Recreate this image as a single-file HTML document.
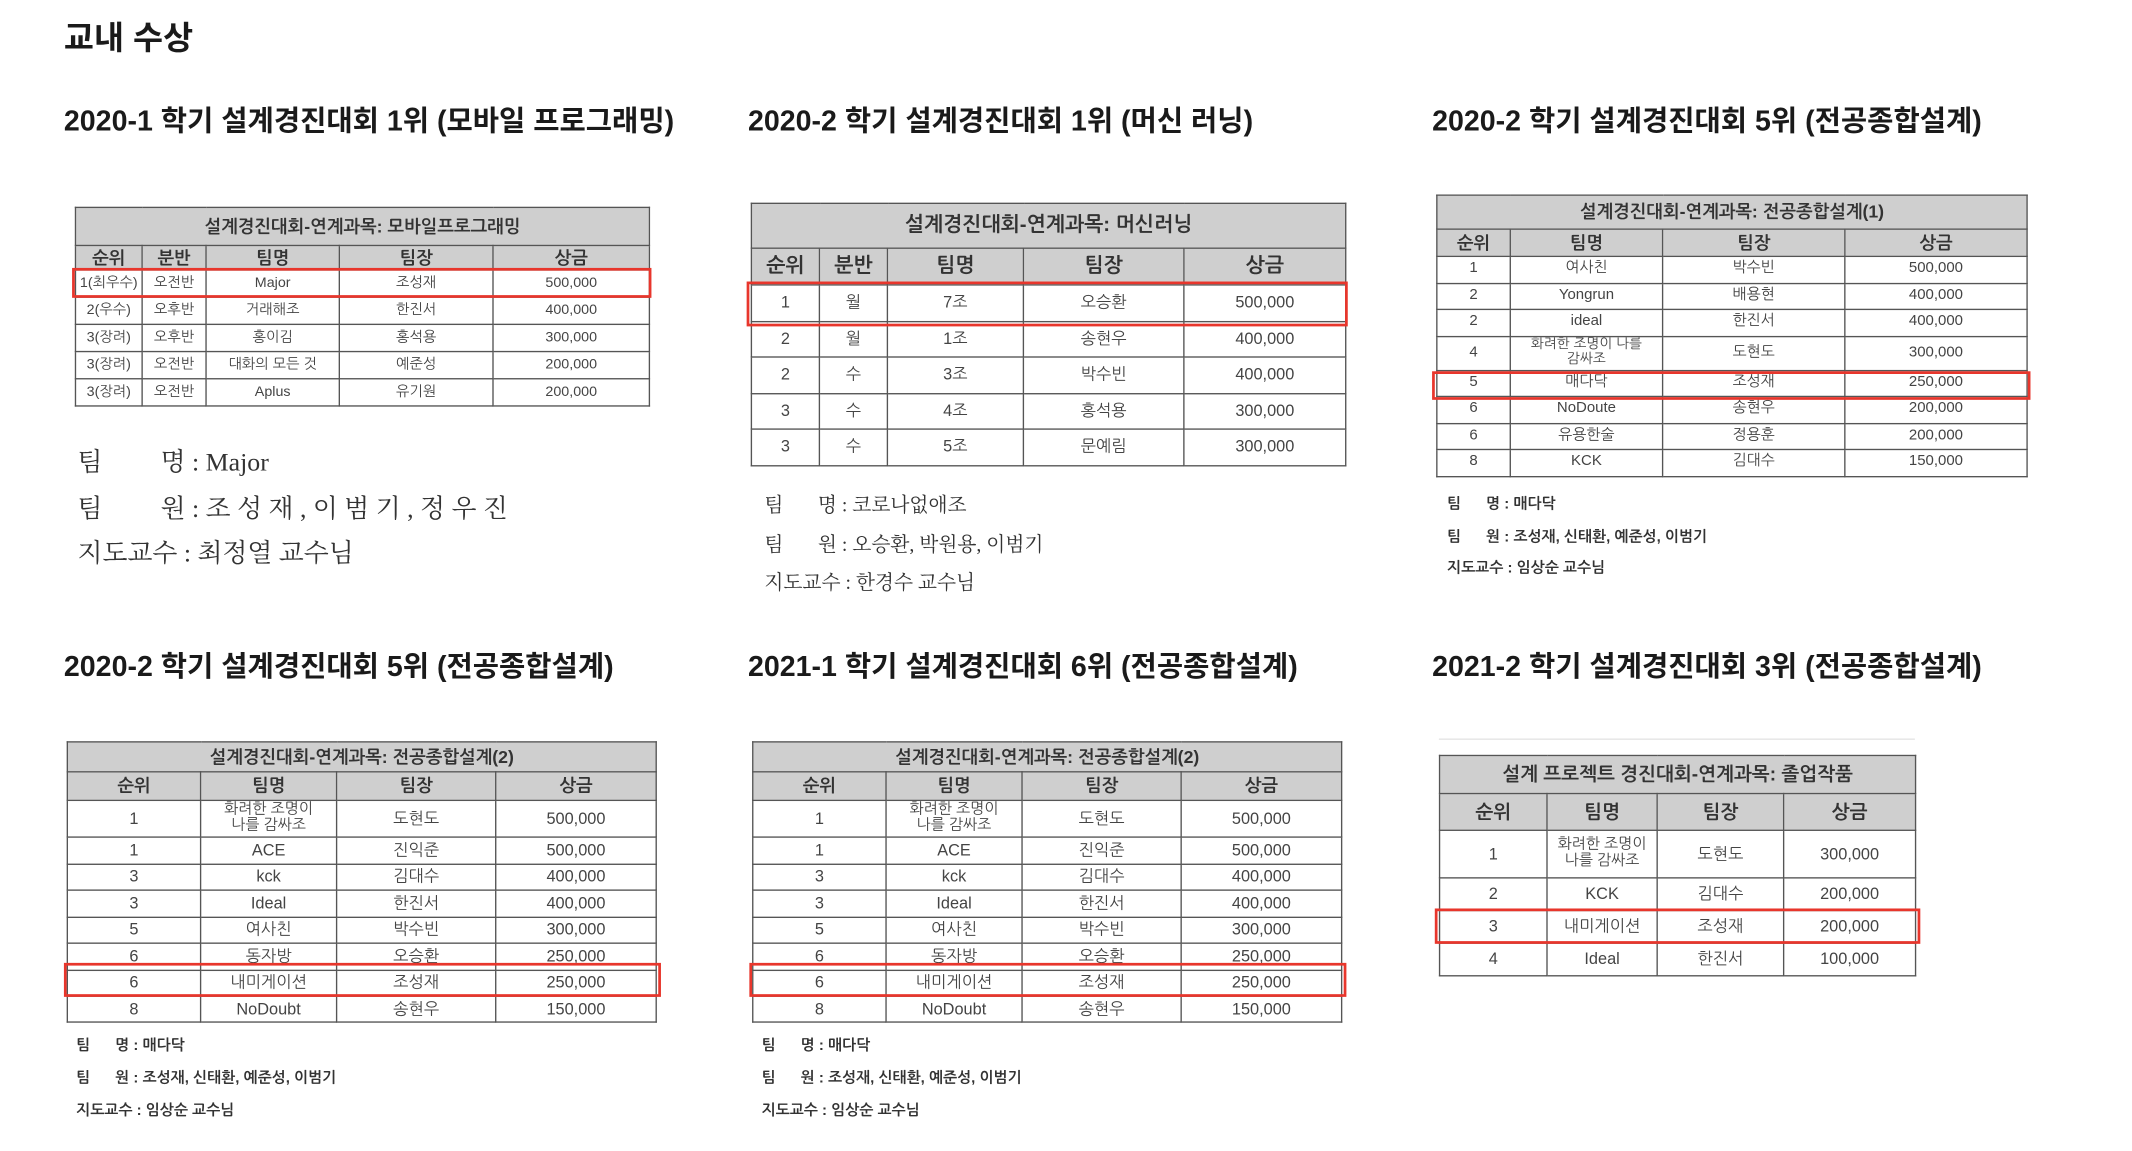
<!DOCTYPE html>
<html><head><meta charset="utf-8">
<style>
html,body{margin:0;padding:0;background:#fff;}
body{width:2132px;height:1150px;overflow:hidden;position:relative;}
#wrap{position:absolute;left:0;top:0;width:1568px;height:846px;transform:scale(1.36);transform-origin:0 0;font-family:"Liberation Sans","Noto Sans CJK KR",sans-serif;color:#222;}
.h{position:absolute;font-weight:bold;white-space:nowrap;color:#1a1a1a;}
.tbl{position:absolute;border-collapse:collapse;table-layout:fixed;font-family:"Liberation Sans","NanumGothic","Noto Sans CJK KR",sans-serif;color:#444;background:#fff;}
.tbl td{border:1px solid #555;text-align:center;padding:0;line-height:1.05;overflow:hidden;}
.tbl tr.t td,.tbl tr.hd td{background:#cfcfcf;color:#333;}
.red{position:absolute;border:2px solid #e8362c;box-sizing:border-box;}
.note{position:absolute;white-space:nowrap;color:#333;}
</style></head><body>
<div id="wrap">
<div class="h" style="left:47px;top:8px;font-size:24px">교내 수상</div>
<div class="h" style="left:47px;top:73px;font-size:21px">2020-1 학기 설계경진대회 1위 (모바일 프로그래밍)</div>
<div class="h" style="left:550px;top:73px;font-size:21px">2020-2 학기 설계경진대회 1위 (머신 러닝)</div>
<div class="h" style="left:1053px;top:73px;font-size:21px">2020-2 학기 설계경진대회 5위 (전공종합설계)</div>
<div class="h" style="left:47px;top:474px;font-size:21px">2020-2 학기 설계경진대회 5위 (전공종합설계)</div>
<div class="h" style="left:550px;top:474px;font-size:21px">2021-1 학기 설계경진대회 6위 (전공종합설계)</div>
<div class="h" style="left:1053px;top:474px;font-size:21px">2021-2 학기 설계경진대회 3위 (전공종합설계)</div>
<div style="position:absolute;left:1058px;top:543px;width:350px;height:1px;background:#e4e4e4"></div>
</div>
<script>
const wrap=document.getElementById('wrap');
const T2=['설계경진대회-연계과목: 전공종합설계(2)',['순위','팀명','팀장','상금'],[['1','화려한 조명이<br>나를 감싸조','도현도','500,000'],['1','ACE','진익준','500,000'],['3','kck','김대수','400,000'],['3','Ideal','한진서','400,000'],['5','여사친','박수빈','300,000'],['6','동자방','오승환','250,000'],['6','내미게이션','조성재','250,000'],['8','NoDoubt','송현우','150,000']]];
const tables=[
 {x:55,y:152,cols:[49,47,98,113,115],th:28,hh:18,rh:[20,20,20,20,20],fs:10.5,hfs:13,tfs:13,title:'설계경진대회-연계과목: 모바일프로그래밍',head:['순위','분반','팀명','팀장','상금'],rows:[['1(최우수)','오전반','Major','조성재','500,000'],['2(우수)','오후반','거래해조','한진서','400,000'],['3(장려)','오후반','홍이김','홍석용','300,000'],['3(장려)','오전반','대화의 모든 것','예준성','200,000'],['3(장려)','오전반','Aplus','유기원','200,000']],red:[53,197,426,22]},
 {x:552,y:149,cols:[50,50,100,118,119],th:33,hh:27,rh:[26.5,26.5,26.5,26.5,26.5],fs:12,hfs:15,tfs:15,title:'설계경진대회-연계과목: 머신러닝',head:['순위','분반','팀명','팀장','상금'],rows:[['1','월','7조','오승환','500,000'],['2','월','1조','송현우','400,000'],['2','수','3조','박수빈','400,000'],['3','수','4조','홍석용','300,000'],['3','수','5조','문예림','300,000']],red:[549,207,442,33]},
 {x:1056,y:143,cols:[54,112,134,134],th:25,hh:20,rh:[19.5,19.5,19.5,25,19.5,19.5,19.5,19.5],fs:11,hfs:13,tfs:13,title:'설계경진대회-연계과목: 전공종합설계(1)',head:['순위','팀명','팀장','상금'],rows:[['1','여사친','박수빈','500,000'],['2','Yongrun','배용현','400,000'],['2','ideal','한진서','400,000'],['4','화려한 조명이 나를<br>감싸조','도현도','300,000'],['5','매다닥','조성재','250,000'],['6','NoDoute','송현우','200,000'],['6','유용한술','정용훈','200,000'],['8','KCK','김대수','150,000']],red:[1053,273,440,21]},
 {x:49,y:545,cols:[98,100,117,118],th:22,hh:21,rh:[27,19.5,19.5,19.5,19.5,19.5,19.5,19],fs:12,hfs:13,tfs:13,title:T2[0],head:T2[1],rows:T2[2],red:[47,708,439,25]},
 {x:553,y:545,cols:[98,100,117,118],th:22,hh:21,rh:[27,19.5,19.5,19.5,19.5,19.5,19.5,19],fs:12,hfs:13,tfs:13,title:T2[0],head:T2[1],rows:T2[2],red:[551,708,439,25]},
 {x:1058,y:555,cols:[79,81,93,97],th:28,hh:27,rh:[35,24,24,24],fs:12,hfs:14,tfs:14,title:'설계 프로젝트 경진대회-연계과목: 졸업작품',head:['순위','팀명','팀장','상금'],rows:[['1','화려한 조명이<br>나를 감싸조','도현도','300,000'],['2','KCK','김대수','200,000'],['3','내미게이션','조성재','200,000'],['4','Ideal','한진서','100,000']],red:[1055,668,357,26]}
];
tables.forEach((s,i)=>{
 const t=document.createElement('table');
 t.className='tbl';
 
 
 const w=s.cols.reduce((a,b)=>a+b,0);
 t.style.left=s.x+'px';t.style.top=s.y+'px';t.style.width=w+'px';
 let h='<colgroup>'+s.cols.map(c=>'<col style="width:'+c+'px">').join('')+'</colgroup>';
 h+='<tr class="t" style="height:'+s.th+'px"><td colspan="'+s.cols.length+'" style="font-size:'+s.tfs+'px;font-weight:bold">'+s.title+'</td></tr>';
 h+='<tr class="hd" style="height:'+s.hh+'px">'+s.head.map(c=>'<td style="font-size:'+s.hfs+'px;font-weight:bold">'+c+'</td>').join('')+'</tr>';
 s.rows.forEach((r,j)=>{
  const fs=r.map(c=>c.indexOf('<br>')>=0?(s.fs*0.92):s.fs);
  h+='<tr style="height:'+s.rh[j]+'px">'+r.map((c,k)=>'<td style="font-size:'+fs[k]+'px">'+c+'</td>').join('')+'</tr>';
 });
 t.innerHTML=h;
 wrap.appendChild(t);
 const r=document.createElement('div');
 r.className='red';
 
 
 r.style.left=s.red[0]+'px';r.style.top=s.red[1]+'px';r.style.width=s.red[2]+'px';r.style.height=s.red[3]+'px';
 wrap.appendChild(r);
});
const notes=[
 [57,325,19,'serif',['팀&nbsp;&nbsp;&nbsp;&nbsp;&nbsp;&nbsp;&nbsp;&nbsp;&nbsp;명 : Major','팀&nbsp;&nbsp;&nbsp;&nbsp;&nbsp;&nbsp;&nbsp;&nbsp;&nbsp;원 : 조 성 재 , 이 범 기 , 정 우 진','지도교수 : 최정열 교수님'],33.5],
 [562,360,14.5,'serif',['팀&nbsp;&nbsp;&nbsp;&nbsp;&nbsp;&nbsp;&nbsp;명 : 코로나없애조','팀&nbsp;&nbsp;&nbsp;&nbsp;&nbsp;&nbsp;&nbsp;원 : 오승환, 박원용, 이범기','지도교수 : 한경수 교수님'],28.5],
 [1064,365,11,'bold',['팀&nbsp;&nbsp;&nbsp;&nbsp;&nbsp;&nbsp;명 : 매다닥','팀&nbsp;&nbsp;&nbsp;&nbsp;&nbsp;&nbsp;원 : 조성재, 신태환, 예준성, 이범기','지도교수 : 임상순 교수님'],23.5],
 [56,763,11,'bold',['팀&nbsp;&nbsp;&nbsp;&nbsp;&nbsp;&nbsp;명 : 매다닥','팀&nbsp;&nbsp;&nbsp;&nbsp;&nbsp;&nbsp;원 : 조성재, 신태환, 예준성, 이범기','지도교수 : 임상순 교수님'],24],
 [560,763,11,'bold',['팀&nbsp;&nbsp;&nbsp;&nbsp;&nbsp;&nbsp;명 : 매다닥','팀&nbsp;&nbsp;&nbsp;&nbsp;&nbsp;&nbsp;원 : 조성재, 신태환, 예준성, 이범기','지도교수 : 임상순 교수님'],24]
];
notes.forEach((n,i)=>{
 n[4].forEach((txt,j)=>{
  const d=document.createElement('div');
  d.className='note';
  
  
  d.style.left=n[0]+'px';d.style.top=(n[1]+j*n[5])+'px';d.style.fontSize=n[2]+'px';
  if(n[3]==='serif'){d.style.fontFamily='"Liberation Serif","Noto Serif CJK SC","Noto Sans CJK KR",serif';}
  else{d.style.fontWeight='bold';d.style.fontFamily='"Liberation Sans","NanumGothic","Noto Sans CJK KR",sans-serif';}
  d.innerHTML=txt;
  wrap.appendChild(d);
 });
});
</script>
</body></html>
